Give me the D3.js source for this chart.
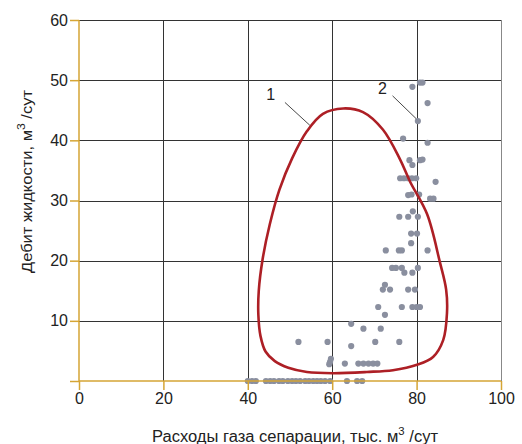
<html>
<head>
  <meta charset="utf-8">
  <script src="https://cdn.jsdelivr.net/npm/d3@7"></script>
  <style>
    html, body { margin:0; padding:0; background:#fff; }
    text { font-family: "Liberation Sans", Arial, sans-serif; fill:#222; }
  </style>
</head>
<body>
<svg width="522" height="444"></svg>
<script>
  const xTicks = [0, 20, 40, 60, 80, 100];
  const yTicks = [0, 10, 20, 30, 40, 50, 60];

  // area 1 boundary (closed curve), [gas, liquid]
  const contour = [
    [62.6, 45.3], [67.3, 44.7], [72.0, 41.8], [76.1, 36.8], [78.4, 33.2],
    [82.5, 27.7], [85.5, 19.8], [87.0, 15.2], [87.2, 11.3], [86.3, 6.8],
    [83.9, 4.0], [80.1, 2.7], [74.4, 1.8], [68.2, 1.5], [60.2, 1.3],
    [54.0, 1.5], [49.6, 2.2], [46.4, 3.3], [44.2, 4.9], [43.0, 7.5],
    [42.5, 11.0], [42.6, 15.0], [43.5, 20.2], [45.2, 26.0], [47.5, 31.8],
    [50.5, 37.0], [54.0, 41.5], [57.8, 44.4]
  ];

  // measured wells (series 2)
  const gas = [
    79.0, 80.8, 81.4, 82.6, 80.3, 76.8, 82.6, 78.3, 79.0, 80.8, 81.4,
    76.1, 77.0, 78.0, 78.9, 79.9, 84.5, 78.0, 78.8, 80.6, 83.2, 84.0,
    79.1, 75.9, 78.0, 80.3, 78.7, 80.1, 78.7, 72.7, 75.8, 76.5, 82.6,
    74.2, 75.1, 76.5, 77.1, 79.0, 80.3, 72.5, 72.0, 73.7, 78.0, 79.6,
    70.9, 76.5, 79.0, 80.0, 80.8, 72.5, 64.5, 67.4, 71.5,
    52.0, 58.9, 64.5, 70.2, 75.9, 59.7, 59.5, 59.3,
    63.0, 66.2, 67.4, 68.6, 69.7, 70.7,
    40.0, 41.0, 41.9, 44.3, 45.3, 46.2, 47.4, 48.3, 49.5, 50.5, 51.4,
    52.4, 53.6, 54.5, 55.5, 56.4, 57.3, 58.3, 59.5, 63.5, 65.9, 67.1
  ];
  const liquid = [
    48.9, 49.6, 49.6, 46.2, 43.2, 40.3, 39.6, 36.7, 35.9, 36.7, 36.8,
    33.7, 33.7, 33.7, 33.7, 33.7, 33.1, 30.9, 31.0, 31.0, 30.3, 30.3,
    28.2, 27.3, 27.3, 27.3, 24.5, 24.5, 22.9, 21.7, 21.7, 21.7, 21.7,
    18.8, 18.8, 18.8, 18.0, 18.0, 18.8, 16.0, 15.2, 15.2, 15.2, 15.2,
    12.3, 12.3, 12.3, 12.3, 12.3, 11.0, 9.5, 8.7, 8.7,
    6.5, 6.5, 5.8, 6.5, 6.5, 3.7, 3.2, 2.8,
    2.9, 2.9, 2.9, 2.9, 2.9, 2.9,
    0, 0, 0, 0, 0, 0, 0, 0, 0, 0, 0,
    0, 0, 0, 0, 0, 0, 0, 0, 0, 0, 0
  ];

  const margin = {left: 79, top: 20, right: 21, bottom: 63};
  const width = 522 - margin.left - margin.right;
  const height = 444 - margin.top - margin.bottom;
  const gold = "#d5a535";

  const svg = d3.select("svg");
  const g = svg.append("g").attr("transform", `translate(${margin.left},${margin.top})`);

  const x = d3.scaleLinear().domain([0, 100]).range([0, width]);
  const y = d3.scaleLinear().domain([0, 60]).range([height, 0]);

  // grid
  g.selectAll(".hgrid")
    .data(yTicks.filter(d => d > 0))
    .enter()
    .append("line")
    .attr("x1", 0).attr("x2", width)
    .attr("y1", d => Math.round(y(d)) + 0.5).attr("y2", d => Math.round(y(d)) + 0.5)
    .attr("stroke", "#333").attr("stroke-width", 1);

  g.selectAll(".vgrid")
    .data(xTicks.filter(d => d > 0))
    .enter()
    .append("line")
    .attr("y1", 0).attr("y2", height)
    .attr("x1", d => Math.round(x(d)) + 0.5).attr("x2", d => Math.round(x(d)) + 0.5)
    .attr("stroke", d => d === 100 ? "#888" : "#333").attr("stroke-width", 1);

  // points
  g.selectAll("circle")
    .data(gas.map((v, i) => [v, liquid[i]]))
    .enter()
    .append("circle")
    .attr("cx", d => x(d[0]))
    .attr("cy", d => y(d[1]))
    .attr("r", 3.1)
    .attr("fill", "#8a8f9f");

  // area 1
  g.append("path")
    .datum(contour)
    .attr("d", d3.line().x(d => x(d[0])).y(d => y(d[1])).curve(d3.curveCatmullRomClosed))
    .attr("fill", "none")
    .attr("stroke", "#ad1f25")
    .attr("stroke-width", 2.6);

  // axes
  const yAxis = g.append("g")
    .call(d3.axisLeft(y).tickValues(yTicks).tickSize(9).tickPadding(2)
      .tickFormat(d => d === 0 ? "" : d));
  const xAxis = g.append("g")
    .attr("transform", `translate(0,${height})`)
    .call(d3.axisBottom(x).tickValues(xTicks).tickSize(9).tickPadding(3));

  [yAxis, xAxis].forEach(a => {
    a.select(".domain").remove();
    a.selectAll("line").attr("stroke", gold).attr("stroke-width", 1.5);
    a.selectAll("text").attr("font-size", 16).attr("fill", "#222")
      .attr("font-family", "Liberation Sans, Arial, sans-serif");
  });
  g.append("line").attr("x1", 0).attr("x2", 0).attr("y1", 0).attr("y2", height)
    .attr("stroke", gold).attr("stroke-width", 1.5);
  g.append("line").attr("x1", 0).attr("x2", width).attr("y1", height).attr("y2", height)
    .attr("stroke", gold).attr("stroke-width", 1.5);

  // labels 1 and 2
  const labels = [
    {t: "1", at: [45.4, 47.6], from: [48.8, 46.3], to: [54.7, 42.5]},
    {t: "2", at: [71.9, 48.6], from: [74.3, 47.4], to: [79.9, 43.6]}
  ];
  labels.forEach(l => {
    g.append("text").attr("x", x(l.at[0])).attr("y", y(l.at[1]))
      .attr("text-anchor", "middle").attr("dominant-baseline", "central")
      .attr("font-size", 16).text(l.t);
    g.append("line")
      .attr("x1", x(l.from[0])).attr("y1", y(l.from[1]))
      .attr("x2", x(l.to[0])).attr("y2", y(l.to[1]))
      .attr("stroke", "#333").attr("stroke-width", 0.9);
  });

  // axis titles
  const xt = svg.append("text")
    .attr("x", 152).attr("y", 442)
    .attr("textLength", 286).attr("lengthAdjust", "spacingAndGlyphs")
    .attr("font-size", 16);
  xt.append("tspan").text("Расходы газа сепарации, тыс. м");
  xt.append("tspan").attr("dy", -7).attr("font-size", 11).text("3");
  xt.append("tspan").attr("dy", 7).text(" /сут");

  const yt = svg.append("text")
    .attr("transform", `translate(32,273) rotate(-90)`)
    .attr("textLength", 183).attr("lengthAdjust", "spacingAndGlyphs")
    .attr("font-size", 15);
  yt.append("tspan").text("Дебит жидкости, м");
  yt.append("tspan").attr("dy", -7).attr("font-size", 11).text("3");
  yt.append("tspan").attr("dy", 7).text(" /сут");
</script>
</body>
</html>
